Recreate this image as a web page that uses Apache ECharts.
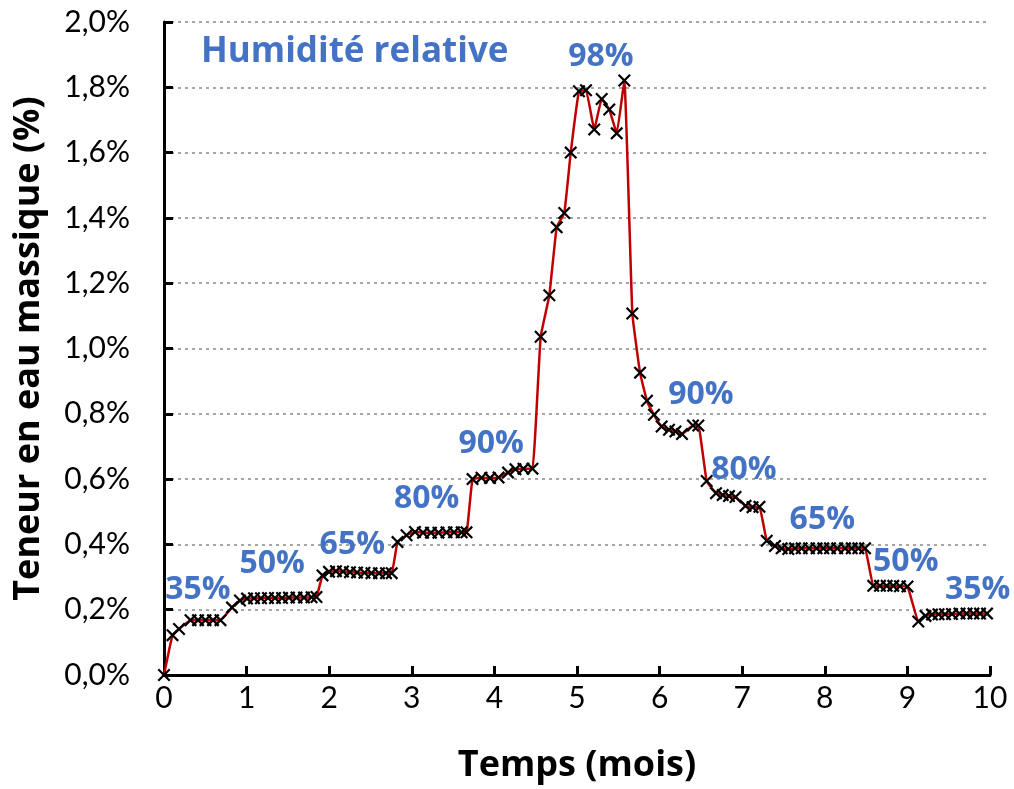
<!DOCTYPE html>
<html>
<head>
<meta charset="utf-8">
<script src="https://cdn.jsdelivr.net/npm/echarts@6/dist/echarts.min.js"></script>
<style>
html,body{margin:0;padding:0;background:#fff;}
#chart{width:1014px;height:789px;}
</style>
</head>
<body>
<div id="chart"></div>
<script>
// Time (months)
const times = [
  0.000, 0.103, 0.182, 0.321, 0.412, 0.502, 0.593, 0.684,
  0.823, 0.920, 1.005, 1.090, 1.174, 1.259, 1.344, 1.429, 1.513, 1.604, 1.695, 1.786, 1.846,
  1.919, 1.998, 2.082, 2.167, 2.252, 2.337, 2.427, 2.512, 2.603, 2.688, 2.757,
  2.827, 2.936, 3.039, 3.136, 3.232, 3.323, 3.420, 3.511, 3.604, 3.662,
  3.735, 3.844, 3.947, 4.050, 4.165, 4.255, 4.352, 4.461,
  4.560, 4.665, 4.754, 4.846, 4.924, 5.024, 5.109, 5.209, 5.299, 5.391, 5.481, 5.573,
  5.670, 5.763, 5.847, 5.932, 6.025, 6.114, 6.192, 6.271, 6.404, 6.469,
  6.570, 6.683, 6.764, 6.840, 6.919, 7.040, 7.125, 7.209,
  7.297, 7.397, 7.478, 7.558, 7.639, 7.720, 7.809, 7.900, 7.982, 8.063, 8.151, 8.245, 8.326, 8.406, 8.487,
  8.587, 8.668, 8.749, 8.829, 8.910, 9.001,
  9.132, 9.219, 9.298, 9.377, 9.455, 9.540, 9.631, 9.716, 9.800, 9.879, 9.964
];
// Mass water content (%)
const waterContent = [
  0.000, 0.122, 0.141, 0.168, 0.168, 0.168, 0.168, 0.168,
  0.207, 0.228, 0.234, 0.235, 0.235, 0.236, 0.236, 0.236, 0.237, 0.237, 0.237, 0.238, 0.239,
  0.305, 0.316, 0.318, 0.317, 0.315, 0.314, 0.313, 0.312, 0.312, 0.312, 0.312,
  0.407, 0.428, 0.438, 0.436, 0.436, 0.436, 0.437, 0.437, 0.437, 0.437,
  0.600, 0.604, 0.603, 0.605, 0.620, 0.630, 0.632, 0.632,
  1.036, 1.163, 1.371, 1.415, 1.600, 1.788, 1.791, 1.671, 1.764, 1.732, 1.659, 1.821,
  1.107, 0.926, 0.840, 0.797, 0.761, 0.751, 0.746, 0.738, 0.764, 0.764,
  0.594, 0.557, 0.551, 0.548, 0.545, 0.518, 0.514, 0.515,
  0.411, 0.395, 0.388, 0.386, 0.388, 0.388, 0.388, 0.388, 0.388, 0.388, 0.388, 0.388, 0.388, 0.388, 0.388,
  0.273, 0.273, 0.273, 0.273, 0.272, 0.271,
  0.164, 0.181, 0.185, 0.186, 0.186, 0.187, 0.188, 0.188, 0.188, 0.188, 0.188
];
// Relative humidity annotations (text, time, content)
const rhLabels = ['35%', '50%', '65%', '80%', '90%', '98%', '90%', '80%', '65%', '50%', '35%'];
const rhTimes  = [0.41, 1.31, 2.28, 3.18, 3.96, 5.29, 6.50, 7.02, 7.97, 8.98, 9.85];
const rhValues = [0.262, 0.341, 0.400, 0.540, 0.707, 1.893, 0.857, 0.628, 0.476, 0.345, 0.262];

const titleText = 'Humidité relative';
const xName = 'Temps (mois)';
const yName = 'Teneur en eau massique (%)';

const seriesData = times.map((t, i) => [t, waterContent[i]]);
const labelData = rhLabels.map((s, i) => ({ value: [rhTimes[i], rhValues[i]], name: s }));

const chart = echarts.init(document.getElementById('chart'), null, { renderer: 'canvas' });
const crossPath = 'path://M0,1.2 L1.2,0 L5,3.8 L8.8,0 L10,1.2 L6.2,5 L10,8.8 L8.8,10 L5,6.2 L1.2,10 L0,8.8 L3.8,5 Z';
const blue = '#4472C4';
chart.setOption({
  animation: false,
  backgroundColor: '#fff',
  title: {
    text: titleText,
    left: 196, top: 30,
    textStyle: { fontFamily: 'Open Sans', fontWeight: 'bold', fontSize: 35, color: blue }
  },
  grid: { left: 164, right: 24, top: 22, bottom: 111, containLabel: false },
  xAxis: {
    type: 'value', min: 0, max: 10, interval: 1,
    name: xName, nameLocation: 'middle', nameGap: 73,
    nameTextStyle: { fontFamily: 'Open Sans', fontWeight: 'bold', fontSize: 36, color: '#000', verticalAlign: 'top' },
    axisLine: { show: true, onZero: false, lineStyle: { color: '#000', width: 3 } },
    axisTick: { show: true, inside: true, length: 9, lineStyle: { color: '#000', width: 3 } },
    axisLabel: { margin: 8, fontFamily: 'Lato', fontSize: 30, color: '#000' },
    splitLine: { show: false }
  },
  yAxis: {
    type: 'value', min: 0, max: 2, interval: 0.2,
    name: yName, nameLocation: 'middle', nameGap: 117, nameRotate: 90,
    nameTextStyle: { fontFamily: 'Open Sans', fontWeight: 'bold', fontSize: 36, color: '#000' },
    axisLine: { show: true, lineStyle: { color: '#000', width: 3 } },
    axisTick: { show: true, inside: true, length: 9, lineStyle: { color: '#000', width: 3 } },
    axisLabel: {
      margin: 34, fontFamily: 'Lato', fontSize: 30, color: '#000',
      formatter: v => v.toFixed(1).replace('.', ',') + '%'
    },
    splitLine: { show: true, lineStyle: { color: '#a6a6a6', width: 2, type: [3, 4] } }
  },
  series: [
    {
      type: 'line',
      data: seriesData,
      smooth: 0.1,
      lineStyle: { color: '#C00000', width: 2.5 },
      symbol: crossPath,
      symbolSize: 13,
      itemStyle: { color: '#000' },
      z: 3
    },
    {
      type: 'scatter',
      data: labelData,
      symbolSize: 0,
      silent: true,
      itemStyle: { opacity: 1 },
      label: {
        show: true, position: 'inside',
        formatter: p => p.name,
        fontFamily: 'Open Sans', fontWeight: 'bold', fontSize: 32, color: blue
      },
      z: 4
    }
  ]
});
</script>
</body>
</html>
